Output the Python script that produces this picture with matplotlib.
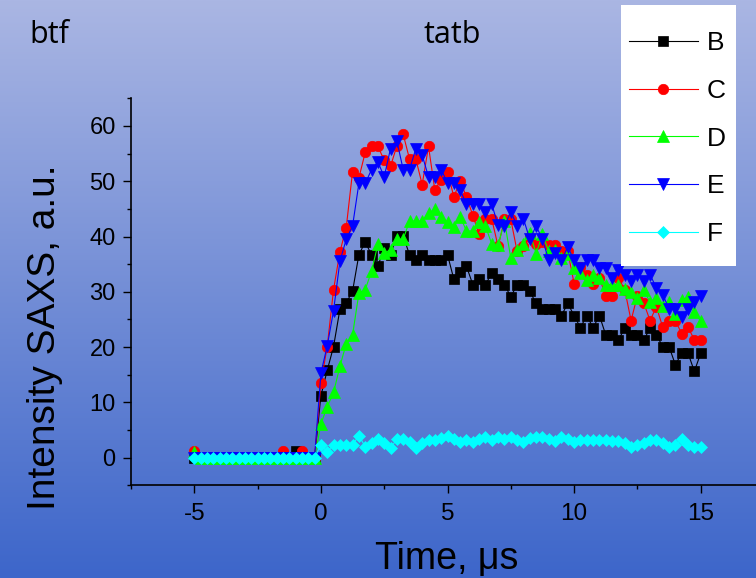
import numpy as np
import matplotlib
matplotlib.use("Agg")
import matplotlib.pyplot as plt
from matplotlib.patches import Rectangle
from matplotlib.colors import LinearSegmentedColormap
from matplotlib.ticker import MultipleLocator

plt.rcParams['font.family'] = ['Liberation Sans', 'DejaVu Sans']
plt.rcParams['axes.unicode_minus'] = False

# ---------------- data ----------------
time_pre = [-5.0, -4.75, -4.5, -4.25, -4.0, -3.75, -3.5, -3.25, -3.0, -2.75,
            -2.5, -2.25, -2.0, -1.75, -1.5, -1.25, -1.0, -0.75, -0.5, -0.25]
time_post = [0.0, 0.25, 0.5, 0.75, 1.0, 1.25, 1.5, 1.75, 2.0, 2.25,
             2.5, 2.75, 3.0, 3.25, 3.5, 3.75, 4.0, 4.25, 4.5, 4.75,
             5.0, 5.25, 5.5, 5.75, 6.0, 6.25, 6.5, 6.75, 7.0, 7.25,
             7.5, 7.75, 8.0, 8.25, 8.5, 8.75, 9.0, 9.25, 9.5, 9.75,
             10.0, 10.25, 10.5, 10.75, 11.0, 11.25, 11.5, 11.75, 12.0, 12.25,
             12.5, 12.75, 13.0, 13.25, 13.5, 13.75, 14.0, 14.25, 14.5, 14.75,
             15.0]

B_pre = [0, 0, 0, 0, 0, 0, 0, 0, 0, 0, 0, 0, 0, 0, 0, 0, 1.2, 0, 0, 0]
C_pre = [1.2, 0, 0, 0, 0, 0, 0, 0, 0, 0, 0, 0, 0, 0, 1.2, 0, 0, 1.2, 0, 0]
D_pre = [1.0, 0, 0, 0, 0, 0, 0, 0, 0, 0, 0, 0, 0, 0, 0, 0, 0, 0, 0, 0]
E_pre = [0, 0, 0, 0, 0, 0, 0, 0, 0, 0, 0, 0, 0, 0, 0, 0, 0, 0, 0, 0]
F_pre = [0, 0, 0, 0, 0, 0, 0, 0, 0, 0, 0, 0, 0, 0, 0, 0, 0, 0, 0, 0]

B_post = [11.2, 15.8, 20.1, 26.8, 28.0, 30.1, 36.7, 39.0, 36.7, 34.6,
          38.0, 36.7, 40.1, 40.1, 36.7, 35.7, 36.7, 35.7, 35.7, 35.7,
          36.7, 32.3, 33.5, 34.6, 31.3, 32.3, 31.3, 33.4, 32.3, 31.3,
          29.1, 31.3, 31.3, 30.1, 27.9, 26.8, 26.8, 26.8, 25.7, 27.9,
          25.7, 23.5, 25.7, 23.5, 25.7, 22.2, 22.2, 21.2, 23.5, 22.2,
          22.2, 21.2, 23.5, 22.2, 20.1, 20.1, 16.8, 18.9, 18.9, 15.6, 18.9]
C_post = [13.5, 20.1, 30.4, 37.2, 41.6, 51.7, 50.6, 55.2, 56.3, 56.3,
          53.8, 52.7, 56.4, 58.5, 54.0, 54.0, 49.4, 56.3, 48.4, 50.3,
          51.7, 47.2, 50.0, 47.2, 43.8, 40.4, 43.1, 43.1, 38.2, 43.1,
          43.1, 37.3, 38.2, 40.0, 38.6, 39.0, 38.5, 38.4, 37.3, 37.3,
          31.5, 34.5, 33.0, 31.5, 32.5, 29.3, 29.2, 32.5, 30.4, 24.8,
          29.3, 28.0, 24.8, 27.3, 23.6, 24.8, 24.8, 22.4, 23.6, 21.3, 21.3]
D_post = [6.1, 9.2, 11.8, 16.5, 20.6, 22.2, 29.7, 30.4, 33.7, 38.6,
          37.0, 37.6, 39.5, 39.5, 42.8, 42.8, 42.8, 44.3, 44.9, 43.6,
          42.6, 41.8, 43.6, 41.0, 41.0, 42.6, 41.9, 38.6, 38.4, 42.8,
          36.1, 37.5, 38.6, 40.7, 36.9, 40.4, 37.3, 37.5, 36.1, 36.9,
          34.3, 33.4, 32.1, 33.1, 32.5, 31.3, 31.3, 31.3, 30.5, 30.0,
          28.9, 30.4, 28.1, 28.9, 27.4, 28.1, 26.0, 28.5, 29.0, 26.3, 24.7]
E_post = [15.3, 20.2, 26.6, 35.5, 39.5, 41.9, 49.6, 49.6, 52.1, 53.5,
          50.8, 55.9, 57.3, 52.1, 52.1, 55.9, 54.7, 50.8, 50.8, 52.1,
          49.7, 49.7, 48.4, 45.8, 45.8, 45.8, 44.5, 45.8, 42.0, 41.9,
          44.5, 41.9, 43.2, 39.5, 41.9, 39.5, 35.7, 37.0, 35.7, 38.1,
          35.7, 34.3, 35.7, 35.7, 34.3, 34.3, 32.5, 34.0, 33.1, 31.9,
          33.1, 32.0, 33.1, 30.7, 29.5, 26.9, 26.9, 25.4, 26.9, 28.1, 29.3]
F_post = [2.3, 1.1, 2.3, 2.3, 2.3, 2.3, 4.0, 2.0, 2.7, 3.3,
          2.7, 1.8, 3.3, 3.3, 2.8, 1.8, 2.7, 3.2, 3.2, 3.5,
          4.0, 3.3, 2.8, 3.2, 2.8, 3.3, 3.8, 3.2, 3.8, 3.3,
          3.8, 3.2, 2.8, 3.5, 3.8, 3.8, 3.3, 3.0, 3.8, 3.3,
          2.8, 3.2, 3.2, 3.2, 3.2, 3.2, 3.0, 3.0, 2.6, 2.0,
          2.3, 2.6, 3.2, 3.2, 2.6, 2.0, 2.3, 3.3, 2.3, 2.0, 2.0]

series_names = ["B", "C", "D", "E", "F"]
x_ticks = [-5, 0, 5, 10, 15]
x_ticklabels = ["-5", "0", "5", "10", "15"]
y_ticks = [0, 10, 20, 30, 40, 50, 60]

# ---------------- figure ----------------
W, H = 756, 578
fig = plt.figure(figsize=(W / 100, H / 100), dpi=100)

bg = fig.add_axes([0, 0, 1, 1], zorder=-10)
grad = np.linspace(0, 1, 256).reshape(-1, 1)
cmap = LinearSegmentedColormap.from_list('bg', ['#AAB6E3', '#3D66CA'])
bg.imshow(grad, aspect='auto', cmap=cmap, extent=[0, 1, 0, 1], origin='upper')
bg.set_axis_off()

ax_left, ax_right, ax_top, ax_bot = 131, 764, 98.3, 485.3
ax = fig.add_axes([ax_left / W, (H - ax_bot) / H, (ax_right - ax_left) / W, (ax_bot - ax_top) / H])
ax.patch.set_alpha(0)

styles = {
    "B": dict(color='black', marker='s', ms=7.0),
    "C": dict(color='#FF0000', marker='o', ms=7.5),
    "D": dict(color='#00FF00', marker='^', ms=8.5),
    "E": dict(color='#0000FF', marker='v', ms=8.5),
    "F": dict(color='#00FFFF', marker='D', ms=6.0),
}
data = {
    "B": B_pre + B_post, "C": C_pre + C_post, "D": D_pre + D_post,
    "E": E_pre + E_post, "F": F_pre + F_post,
}
time_all = time_pre + time_post

handles = []
for name in series_names:
    st = styles[name]
    h, = ax.plot(time_all, data[name], color=st['color'], lw=0.8,
                 marker=st['marker'], ms=st['ms'], mfc=st['color'], mec=st['color'],
                 mew=0.5, label=name)
    handles.append(h)

ax.set_xlim(-7.5, 17.5)
ax.set_ylim(-5, 65)
ax.set_xticks(x_ticks)
ax.set_xticklabels(x_ticklabels)
ax.set_yticks(y_ticks)
ax.xaxis.set_minor_locator(MultipleLocator(2.5))
ax.yaxis.set_minor_locator(MultipleLocator(5))
for s in ['top', 'right']:
    ax.spines[s].set_visible(False)
for s in ['left', 'bottom']:
    ax.spines[s].set_linewidth(1.2)
ax.tick_params(which='major', direction='out', length=6, width=1.0)
ax.tick_params(which='minor', direction='out', length=3, width=1.0)
ax.tick_params(axis='x', which='major', labelsize=17.5, pad=7)
ax.tick_params(axis='y', which='major', labelsize=17, pad=5)

# axis labels
fig.text(55 / W, 1 - 337 / H, 'Intensity SAXS, a.u.', rotation=90, rotation_mode='anchor',
         ha='center', va='baseline', fontsize=28)
fig.text(447 / W, 9 / H, 'Time, \u03bcs', ha='center', va='baseline', fontsize=27)

# top annotations
fig.text(29 / W, 1 - 43 / H, 'btf', fontsize=22, family='Open Sans', va='baseline')
fig.text(424 / W, 1 - 43 / H, 'tatb', fontsize=22, family='Open Sans', va='baseline')

# legend box
rect = Rectangle((621 / W, 1 - 266 / H), (736 - 621) / W, (266 - 5) / H,
                 transform=fig.transFigure, facecolor='white', edgecolor='none', zorder=15)
fig.add_artist(rect)
leg = fig.legend(handles, series_names, loc='upper left',
                 bbox_to_anchor=(629 / W, 1 - 31 / H), bbox_transform=fig.transFigure,
                 frameon=False, fontsize=19, handlelength=2.6, handletextpad=0.35,
                 labelspacing=0.9, borderpad=0, borderaxespad=0, numpoints=1)
leg.set_zorder(20)

fig.savefig('out.png', dpi=100)
